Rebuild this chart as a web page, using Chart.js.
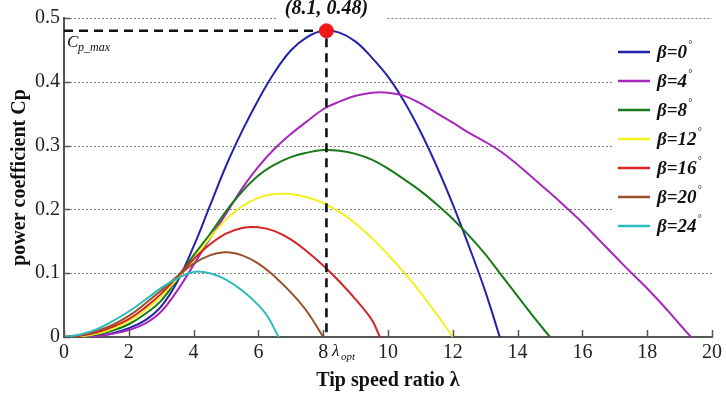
<!DOCTYPE html>
<html>
<head>
<meta charset="utf-8">
<script src="https://cdn.jsdelivr.net/npm/chart.js@4/dist/chart.umd.min.js"></script>
<style>
html,body{margin:0;padding:0;background:#fff;}
#wrap{width:726px;height:398px;position:relative;}
</style>
</head>
<body>
<div id="wrap"><canvas id="c" width="726" height="398"></canvas></div>
<script>
// ---- data ----
const seriesNames = ['β=0', 'β=4', 'β=8', 'β=12', 'β=16', 'β=20', 'β=24'];

const lamB0 = [0,0.5,1,1.5,2,2.5,3,3.5,4,4.5,5,5.5,6,6.5,7,7.5,8,8.5,9,9.5,10,10.5,11,11.5,12,12.5,13,13.45];
const cpB0  = [0,0,0.002,0.006,0.014,0.026,0.048,0.087,0.142,0.205,0.268,0.323,0.372,0.415,0.449,0.47,0.48,0.477,0.463,0.438,0.408,0.369,0.322,0.268,0.208,0.142,0.072,0];

const lamB4 = [0,0.5,1,1.5,2,2.5,3,3.5,4,4.5,5,5.5,6,6.5,7,7.5,8,8.5,9,9.5,10,10.5,11,11.5,12,12.5,13,13.5,14,14.5,15,15.5,16,16.5,17,17.5,18,18.5,19,19.35];
const cpB4  = [0,0,0.001,0.005,0.011,0.021,0.04,0.073,0.113,0.154,0.193,0.233,0.267,0.295,0.318,0.338,0.357,0.369,0.378,0.383,0.383,0.378,0.366,0.351,0.336,0.32,0.306,0.29,0.27,0.248,0.226,0.203,0.179,0.153,0.127,0.101,0.076,0.049,0.02,0];

const lamB8 = [0,0.5,1,1.5,2,2.5,3,3.5,4,4.5,5,5.5,6,6.5,7,7.5,8,8.5,9,9.5,10,10.5,11,11.5,12,12.5,13,13.5,14,14.5,15];
const cpB8  = [0,0.001,0.004,0.01,0.02,0.036,0.057,0.092,0.128,0.161,0.197,0.228,0.253,0.27,0.282,0.289,0.293,0.292,0.287,0.278,0.264,0.247,0.229,0.208,0.185,0.159,0.13,0.097,0.064,0.031,0];

const lamB12 = [0,0.5,1,1.5,2,2.5,3,3.5,4,4.5,5,5.5,6,6.5,7,7.5,8,8.5,9,9.5,10,10.5,11,11.5,12];
const cpB12  = [0,0.001,0.005,0.013,0.025,0.042,0.064,0.092,0.122,0.155,0.184,0.205,0.218,0.224,0.224,0.219,0.21,0.196,0.178,0.155,0.129,0.101,0.07,0.036,0];

const lamB16 = [0,0.5,1,1.5,2,2.5,3,3.5,4,4.5,5,5.5,6,6.5,7,7.5,8,8.5,9,9.5,9.75];
const cpB16  = [0,0.002,0.007,0.016,0.028,0.046,0.068,0.095,0.122,0.145,0.162,0.171,0.172,0.166,0.153,0.134,0.112,0.087,0.059,0.027,0];

const lamB20 = [0,0.5,1,1.5,2,2.5,3,3.5,4,4.5,5,5.5,6,6.5,7,7.5,8];
const cpB20  = [0,0.003,0.009,0.019,0.033,0.052,0.073,0.095,0.115,0.128,0.133,0.128,0.115,0.095,0.07,0.04,0];

const lamB24 = [0,0.5,1,1.5,2,2.5,3,3.5,4,4.5,5,5.5,6,6.3,6.62];
const cpB24  = [0,0.004,0.012,0.025,0.04,0.058,0.077,0.092,0.102,0.1,0.09,0.073,0.05,0.031,0];

const optLambda = [8.1];
const optCp = [0.48];

const xTickValues = [0,2,4,6,8,10,12,14,16,18,20];
const xTickLabels = ['0','2','4','6','8','10','12','14','16','18','20'];
const yTickValues = [0,0.1,0.2,0.3,0.4,0.5];
const yTickLabels = ['0','0.1','0.2','0.3','0.4','0.5'];

const seriesColors = ['#2323aa','#a827bd','#177a17','#f2f21e','#d42424','#97502a','#2cbcbc'];

// ---- build datasets ----
const lamAll = [lamB0, lamB4, lamB8, lamB12, lamB16, lamB20, lamB24];
const cpAll = [cpB0, cpB4, cpB8, cpB12, cpB16, cpB20, cpB24];

const datasets = [];
datasets.push({
  label: 'optimum',
  data: optLambda.map((l,i)=>({x:l, y:optCp[i]})),
  showLine: false, pointRadius: 7, pointBackgroundColor: '#f01818', pointBorderColor: '#f01818',
  order: 0
});
datasets.push({
  label: 'guide',
  data: [{x:0, y:optCp[0]}, {x:optLambda[0], y:optCp[0]}, {x:optLambda[0], y:0}],
  borderColor: '#111', borderWidth: 2.6, borderDash: [9,6], pointRadius: 0, tension: 0, fill:false,
  order: 1
});
seriesNames.forEach((name, k) => {
  datasets.push({
    label: name,
    data: lamAll[k].map((l,i)=>({x:l, y:cpAll[k][i]})),
    borderColor: seriesColors[k], backgroundColor: seriesColors[k],
    borderWidth: 2, pointRadius: 0, fill: false,
    tension: 0.4, borderJoinStyle: 'round', borderCapStyle: 'round',
    order: 8 - k
  });
});

const SERIF = '"Liberation Serif", "Times New Roman", serif';

const decor = {
  id: 'decor',
  beforeDatasetsDraw(chart) {
    const {ctx, chartArea: a, scales: {x, y}} = chart;
    ctx.save();
    // dotted horizontal gridlines, interrupted by the legend and the annotation
    ctx.strokeStyle = '#808080';
    ctx.lineWidth = 1;
    ctx.setLineDash([2, 2]);
    const tx = x.getPixelForValue(optLambda[0]);
    yTickValues.forEach(v => {
      if (v === 0) return;
      const py = Math.round(y.getPixelForValue(v)) + 0.5;
      let segs;
      if (v >= 0.5) segs = [[a.left + 2, tx - 50], [tx + 61, a.right]];
      else if (py > 36 && py < 244) segs = [[a.left + 2, 612]];
      else segs = [[a.left + 2, a.right]];
      segs.forEach(([x0, x1]) => {
        ctx.beginPath(); ctx.moveTo(x0, py); ctx.lineTo(x1, py); ctx.stroke();
      });
    });
    ctx.restore();
  },
  afterDraw(chart) {
    const {ctx, chartArea: a, scales: {x, y}} = chart;
    ctx.save();
    // inward tick marks
    ctx.strokeStyle = '#555';
    ctx.lineWidth = 1.5;
    xTickValues.forEach(v => {
      const px = Math.round(x.getPixelForValue(v)) + 0.5;
      ctx.beginPath(); ctx.moveTo(px, a.bottom); ctx.lineTo(px, a.bottom - 7); ctx.stroke();
    });
    yTickValues.forEach(v => {
      const py = Math.round(y.getPixelForValue(v)) + 0.5;
      ctx.beginPath(); ctx.moveTo(a.left, py); ctx.lineTo(a.left + 6, py); ctx.stroke();
    });
    // legend
    const rows = [52, 81, 110, 139, 168, 197, 226];
    seriesNames.forEach((name, k) => {
      const ry = rows[k];
      ctx.strokeStyle = seriesColors[k];
      ctx.lineWidth = 2.5;
      ctx.beginPath(); ctx.moveTo(618, ry); ctx.lineTo(650, ry); ctx.stroke();
      ctx.fillStyle = '#111';
      ctx.font = 'bold italic 19px ' + SERIF;
      ctx.textBaseline = 'middle';
      ctx.textAlign = 'left';
      ctx.fillText(name, 657, ry + 1);
      const w = ctx.measureText(name).width;
      ctx.font = 'italic 10px ' + SERIF;
      ctx.fillText('°', 657 + w + 1, ry - 7);
    });
    // optimum annotation
    const tx = x.getPixelForValue(optLambda[0]);
    ctx.fillStyle = '#111';
    ctx.font = 'bold italic 20px ' + SERIF;
    ctx.textAlign = 'center';
    ctx.textBaseline = 'middle';
    ctx.fillText('(' + optLambda[0] + ', ' + optCp[0] + ')', tx, 9);
    // C_p_max
    ctx.textAlign = 'left';
    ctx.font = 'italic 17px ' + SERIF;
    ctx.fillText('C', 67, 43);
    ctx.font = 'italic 12px ' + SERIF;
    ctx.fillText('p_max', 78, 48);
    // lambda_opt
    ctx.font = 'italic 17px ' + SERIF;
    ctx.fillText('λ', 332, 352);
    ctx.font = 'italic 11px ' + SERIF;
    ctx.fillText('opt', 341, 357);
    ctx.restore();
  }
};

new Chart(document.getElementById('c'), {
  type: 'line',
  data: { datasets },
  plugins: [decor],
  options: {
    responsive: false,
    animation: false,
    devicePixelRatio: 1,
    layout: { padding: { left: 0, right: 13, top: 18, bottom: 0 } },
    plugins: { legend: { display: false }, tooltip: { enabled: false } },
    scales: {
      x: {
        type: 'linear', min: 0, max: 20,
        afterBuildTicks: s => { s.ticks = xTickValues.map(v => ({value: v})); },
        afterFit: s => { s.height = 61; },
        grid: { display: false, drawTicks: false, tickLength: 0 },
        border: { display: true, color: '#555', width: 2 },
        ticks: {
          autoSkip: false, maxRotation: 0, padding: 4, color: '#222',
          font: { family: SERIF, size: 20 },
          callback: (v, i) => xTickLabels[i]
        },
        title: {
          display: true, text: 'Tip speed ratio λ', color: '#111',
          font: { family: SERIF, size: 20, weight: 'bold' },
          padding: { top: 0, bottom: 5 }
        }
      },
      y: {
        type: 'linear', min: 0, max: 0.5,
        afterBuildTicks: s => { s.ticks = yTickValues.map(v => ({value: v})); },
        afterFit: s => { s.width = 64; },
        grid: { display: false, drawTicks: false, tickLength: 0 },
        border: { display: true, color: '#555', width: 2 },
        ticks: {
          autoSkip: false, padding: 4, color: '#222',
          font: { family: SERIF, size: 20 },
          callback: (v, i) => yTickLabels[i]
        },
        title: {
          display: true, text: 'power coefficient Cp', color: '#111',
          font: { family: SERIF, size: 20, weight: 'bold' },
          padding: { top: 8, bottom: 0 }
        }
      }
    }
  }
});
</script>
</body>
</html>
